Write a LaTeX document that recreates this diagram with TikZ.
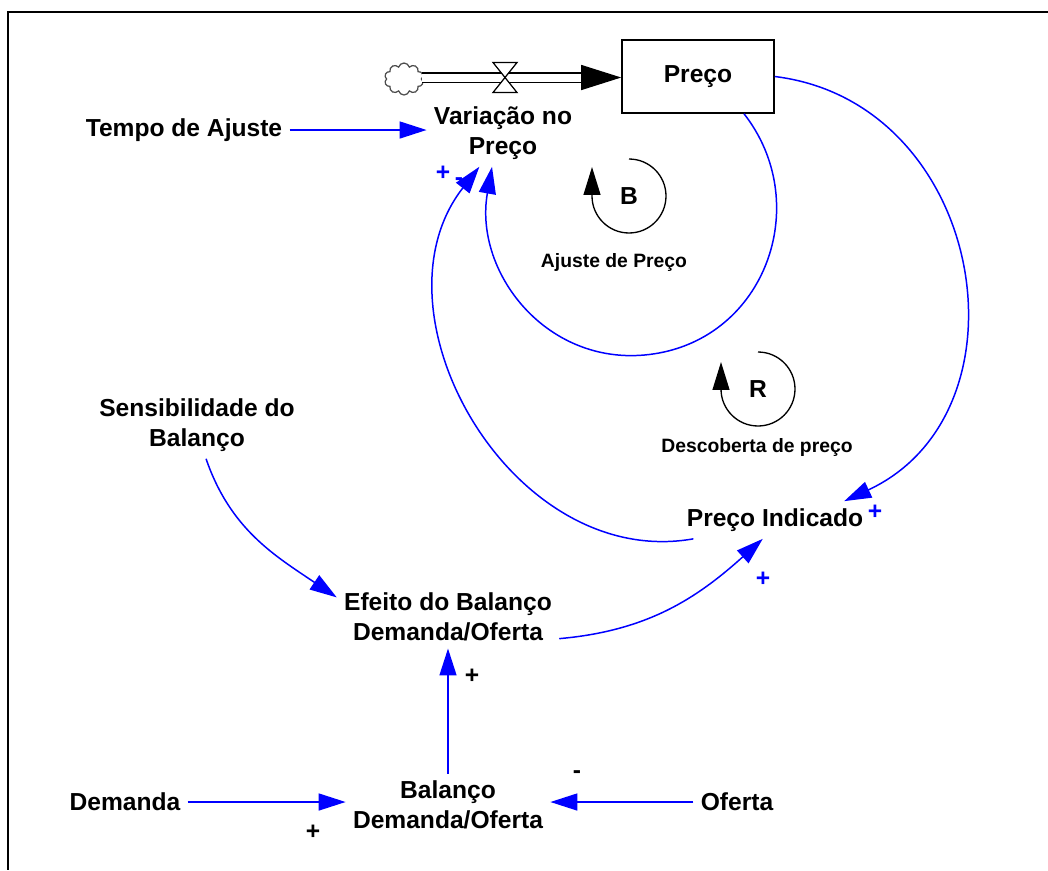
\documentclass[tikz,border=0pt]{standalone}
\usepackage{fontspec}
\setmainfont{Liberation Sans}
\usetikzlibrary{arrows.meta,shapes.symbols}
\tikzset{
  var/.style={font=\bfseries\fontsize{14}{17}\selectfont, align=center, inner sep=4pt},
  stock/.style={draw, line width=0.9pt, minimum width=3.04cm, minimum height=1.46cm, font=\bfseries\fontsize{14}{17}\selectfont},
  link/.style={draw=blue, line width=0.85pt, -{Triangle[length=0.54cm,width=0.34cm]}},
  sign/.style={font=\bfseries\fontsize{14}{14}\selectfont, inner sep=0pt},
  looparrow/.style={line width=0.75pt, -{Triangle[length=0.56cm,width=0.34cm]}},
  loopsym/.style={font=\bfseries\fontsize{14}{14}\selectfont},
  looplbl/.style={font=\bfseries\fontsize{11}{13}\selectfont},
}

\begin{document}
\begin{tikzpicture}[x=0.02cm, y=-0.02cm]
  \useasboundingbox (0,0) rectangle (1048,870);
  \draw[line width=1.2pt] (1048,12) -- (8,12) -- (8,870);

  \node[stock] (preco) at (698,76.5) {Preço};
  \node[var] (varpreco) at (503,133) {Variação no\\Preço};
  \node[var] (tempo) at (184,130) {Tempo de Ajuste};
  \node[var] (sens) at (197,425) {Sensibilidade do\\Balanço};
  \node[var] (efeito) at (448,617) {Efeito do Balanço\\Demanda/Oferta};
  \node[var] (pind) at (775,520) {Preço Indicado};
  \node[var] (balanco) at (448,805) {Balanço\\Demanda/Oferta};
  \node[var] (demanda) at (125,802) {Demanda};
  \node[var] (oferta) at (737,802) {Oferta};
  \node[cloud, cloud puffs=10, draw=black!70, line width=0.7pt,
        minimum width=0.78cm, minimum height=0.64cm, inner sep=0pt] (fonte) at (404,79) {};
  \coordinate (valve) at (505,77.5);
  \coordinate (bbot) at (659,353);

  \draw[double=white, double distance=0.16cm, line width=0.7pt] (fonte.east |- valve) -- ([xshift=-20pt]preco.west |- valve);
  \draw[line width=0.7pt, -{Triangle[length=0.8cm,width=0.5cm]}] ([xshift=-23pt]preco.west |- valve) -- (preco.west |- valve);
  \draw[fill=white, line width=0.7pt] (valve) ++(-12,-15) -- ++(24,0) -- ++(-24,30) -- ++(24,0) -- cycle;

  \node[sign, blue] (polvar1) at (443,173) {+};
  \node[sign, blue] (polvar2) at (459,182) {-};
  \node[sign, blue] (polpind1) at (875,512) {+};
  \node[sign, blue] (polpind2) at (763,579) {+};
  \node[sign] (polefeito) at (472,676) {+};
  \node[sign] (poloferta) at (577,775) {-};
  \node[sign] (poldemanda) at (313,832) {+};

  \draw[link] (tempo.east) -- (tempo.east -| varpreco.west);
  \draw[link] (preco.-39) to[out=-52, in=10.5, looseness=1.12] (bbot)
    to[out=190.5, in=-100, looseness=1.12] (varpreco.-108);
  \draw[link] (pind.-167) to[out=-170, in=-128, looseness=1.1] (varpreco.-125);
  \draw[link] (preco.east) to[out=-7, in=25, looseness=1.26] ([xshift=-15pt]pind.north east);
  \draw[link] (sens.-75) to[out=-71, in=146] (efeito.170);
  \draw[link] (efeito.-11) to[out=5, in=-138] (pind.-123);
  \draw[link] (balanco) -- (efeito);
  \draw[link] (demanda.east) -- (demanda.east -| balanco.west);
  \draw[link] (oferta.west) -- (oferta.west -| balanco.east);

  \node[loopsym] (bloop) at (629,196) {B};
  \draw[looparrow] (bloop.center) ++(0,-37) arc[start angle=90, end angle=-180, radius=0.74cm] -- ++(0,-29);
  \node[looplbl] (bname) at (614,262) {Ajuste de Preço};
  \node[loopsym] (rloop) at (758,389) {R};
  \draw[looparrow] (rloop.center) ++(0,-37) arc[start angle=90, end angle=-180, radius=0.74cm] -- ++(0,-27);
  \node[looplbl] (rname) at (757,447) {Descoberta de preço};
\end{tikzpicture}
\end{document}
